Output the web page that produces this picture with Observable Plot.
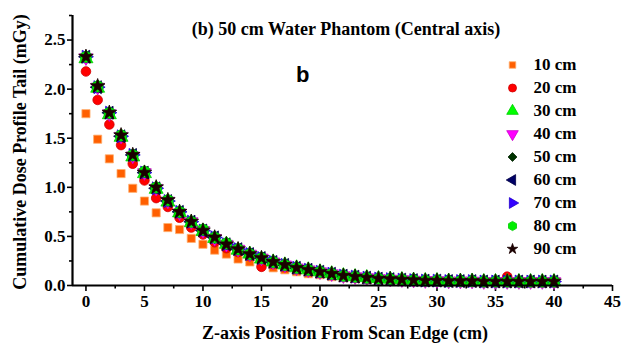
<!DOCTYPE html>
<html>
<head>
<meta charset="utf-8">
<script src="https://cdn.jsdelivr.net/npm/d3@7"></script>
<script src="https://cdn.jsdelivr.net/npm/@observablehq/plot@0.6"></script>
<style>
  html, body { margin: 0; padding: 0; background: #fff; }
  #wrap { position: relative; width: 634px; height: 345px; overflow: hidden;
          font-family: "Liberation Serif", "Times New Roman", serif; font-weight: bold; color: #000; }
  #wrap svg { position: absolute; }
  .lbl { position: absolute; white-space: nowrap; line-height: 1; }
</style>
</head>
<body>
<div id="wrap"></div>
<script>
// ---------- data ----------
const titleText = "(b) 50 cm Water Phantom (Central axis)";
const panelLetter = "b";
const xTitle = "Z-axis Position From Scan Edge (cm)";
const yTitle = "Cumulative Dose Profile Tail (mGy)";

const xTicks = [0, 5, 10, 15, 20, 25, 30, 35, 40, 45];
const xMinorTicks = [2.5, 7.5, 12.5, 17.5, 22.5, 27.5, 32.5, 37.5, 42.5];
const yTicks = [0, 0.5, 1.0, 1.5, 2.0, 2.5];
const yMinorTicks = [0.25, 0.75, 1.25, 1.75, 2.25, 2.75];

const positions = [0,1,2,3,4,5,6,7,8,9,10,11,12,13,14,15,16,17,18,19,20,
                   21,22,23,24,25,26,27,28,29,30,31,32,33,34,35,36,37,38,39,40];

const seriesNames = ["10 cm", "20 cm", "30 cm", "40 cm", "50 cm", "60 cm", "70 cm", "80 cm", "90 cm"];

const dose10 = [1.75,1.49,1.29,1.14,0.99,0.86,0.74,0.59,0.57,0.48,0.42,0.36,0.32,0.27,0.24,0.21,0.18,0.16,0.14,0.12,0.11,0.09,0.08,0.07,0.06];
const dose20 = [2.18,1.89,1.64,1.43,1.24,1.07,0.89,0.80,0.69,0.59,0.52,0.44,0.38,0.34,0.30,0.19,0.22,0.19,0.17,0.15,0.13,0.11,0.10,0.08,0.07,
                0.065,0.06,0.055,0.05,0.045,0.04,0.04,0.035,0.035,0.035,0.035,0.09,0.03,0.03,0.03,0.03];
const dose30 = [2.31,2.01,1.74,1.51,1.31,1.14,0.98,0.85,0.74,0.64,0.55,0.48,0.42,0.36,0.32,0.27,0.24,0.21,0.18,0.16,0.14,0.12,0.10,0.09,0.08,
                0.07,0.065,0.06,0.055,0.05,0.05,0.045,0.045,0.045,0.04,0.04,0.04,0.04,0.04,0.04,0.04];
const dose40 = [2.32,2.02,1.75,1.52,1.32,1.15,0.99,0.86,0.74,0.65,0.56,0.48,0.42,0.37,0.32,0.28,0.24,0.21,0.18,0.16,0.14,0.12,0.10,0.09,0.08,
                0.07,0.065,0.06,0.055,0.05,0.05,0.045,0.045,0.045,0.04,0.04,0.04,0.04,0.04,0.04,0.04];
const dose50 = [2.32,2.02,1.75,1.52,1.32,1.15,0.99,0.86,0.74,0.65,0.56,0.48,0.42,0.37,0.32,0.28,0.24,0.21,0.18,0.16,0.14,0.12,0.10,0.09,0.08,
                0.07,0.065,0.06,0.055,0.05,0.05,0.045,0.045,0.045,0.04,0.04,0.04,0.04,0.04,0.04,0.04];
const dose60 = [2.33,2.02,1.76,1.52,1.33,1.15,0.99,0.86,0.75,0.65,0.56,0.49,0.42,0.37,0.32,0.28,0.24,0.21,0.18,0.16,0.14,0.12,0.10,0.09,0.08,
                0.07,0.065,0.06,0.055,0.05,0.05,0.045,0.045,0.045,0.04,0.04,0.04,0.04,0.04,0.04,0.04];
const dose70 = [2.33,2.02,1.76,1.52,1.33,1.15,0.99,0.86,0.75,0.65,0.56,0.49,0.42,0.37,0.32,0.28,0.24,0.21,0.18,0.16,0.14,0.12,0.10,0.09,0.08,
                0.07,0.065,0.06,0.055,0.05,0.05,0.045,0.045,0.045,0.04,0.04,0.04,0.04,0.04,0.04,0.04];
const dose80 = [2.33,2.03,1.76,1.53,1.33,1.16,1.00,0.87,0.75,0.65,0.57,0.49,0.43,0.37,0.32,0.28,0.24,0.21,0.18,0.16,0.14,0.12,0.10,0.09,0.08,
                0.07,0.065,0.06,0.055,0.05,0.05,0.045,0.045,0.045,0.04,0.04,0.04,0.04,0.04,0.04,0.04];
const dose90 = [2.33,2.03,1.76,1.53,1.33,1.15,1.00,0.87,0.75,0.65,0.56,0.49,0.42,0.37,0.32,0.28,0.24,0.21,0.18,0.16,0.14,0.12,0.10,0.09,0.08,
                0.07,0.065,0.06,0.055,0.05,0.05,0.045,0.045,0.045,0.04,0.04,0.04,0.04,0.04,0.04,0.04];

const seriesValues = [dose10, dose20, dose30, dose40, dose50, dose60, dose70, dose80, dose90];

// ---------- styles ----------
const SQ3 = Math.sqrt(3);
function triangle(rot) {
  return {
    draw(ctx, size) {
      const y = -Math.sqrt(size / (SQ3 * 3));
      const pts = [[0, y * 2], [-SQ3 * y, -y], [SQ3 * y, -y]];
      const c = Math.cos(rot), s = Math.sin(rot);
      pts.forEach(([px, py], i) => {
        const X = px * c - py * s, Y = px * s + py * c;
        if (i) ctx.lineTo(X, Y); else ctx.moveTo(X, Y);
      });
      ctx.closePath();
    }
  };
}
const styles = [
  {symbol: "square",        fill: "#ff5f00", stroke: "#ffb070", r: 4.6, lr: 3.7},
  {symbol: "circle",        fill: "#ff0000", stroke: "#d00000", r: 4.8, lr: 4.0},
  {symbol: triangle(0),     fill: "#00ff00", stroke: "#00cc00", r: 5.2, lr: 4.3},
  {symbol: triangle(Math.PI), fill: "#ff00ff", stroke: "#cc00cc", r: 5.0, lr: 4.3},
  {symbol: "diamond2",      fill: "#003300", stroke: "#002200", r: 4.8, lr: 4.0},
  {symbol: triangle(-Math.PI / 2), fill: "#000066", stroke: "#000044", r: 4.8, lr: 4.0},
  {symbol: triangle(Math.PI / 2),  fill: "#3300ff", stroke: "#2200cc", r: 4.8, lr: 4.0},
  {symbol: "hexagon",       fill: "#00ee00", stroke: "#00cc00", r: 5.2, lr: 4.0},
  {symbol: "star",          fill: "#1a0000", stroke: "#1a0000", r: 4.6, lr: 3.3}
];

// ---------- main chart ----------
const pointMarks = seriesValues.map((vals, i) => {
  const rows = vals.map((v, j) => ({x: positions[j], y: v}));
  const st = styles[i];
  return Plot.dot(rows, {x: "x", y: "y", symbol: st.symbol, fill: st.fill,
                         stroke: st.stroke, strokeWidth: 0.8, r: st.r});
});

const chart = Plot.plot({
  width: 634, height: 345,
  marginLeft: 72, marginRight: 22, marginTop: 15, marginBottom: 60,
  style: {fontFamily: '"Liberation Serif", "Times New Roman", serif', fontWeight: "bold",
          fontSize: "17px", color: "#000", background: "transparent", overflow: "visible"},
  x: {domain: [-1.15, 45]},
  y: {domain: [0, 2.75]},
  marks: [
    Plot.axisX({ticks: xTicks, tickSize: 6, tickPadding: 3, strokeWidth: 1.6, label: null, fontSize: 17}),
    Plot.axisX({ticks: xMinorTicks, tickSize: 3.5, strokeWidth: 1.6, tickFormat: () => "", label: null}),
    Plot.axisY({ticks: yTicks, tickSize: 5, tickPadding: 2, strokeWidth: 1.6, tickFormat: d3.format(".1f"), label: null, fontSize: 17}),
    Plot.axisY({ticks: yMinorTicks, tickSize: 3, strokeWidth: 1.6, tickFormat: () => "", label: null}),
    ...pointMarks,
    Plot.ruleY([0], {strokeWidth: 2.2}),
    Plot.ruleX([-1.15], {strokeWidth: 2.2})
  ]
});
chart.style.left = "0px";
chart.style.top = "0px";

const wrap = document.getElementById("wrap");
wrap.appendChild(chart);

// ---------- legend (separate small Plot) ----------
const legendMarks = [];
seriesNames.forEach((name, i) => {
  const st = styles[i];
  legendMarks.push(Plot.dot([name], {y: d => d, frameAnchor: "left", dx: 32,
    symbol: st.symbol, fill: st.fill, stroke: st.stroke, strokeWidth: 0.8, r: st.lr}));
});
legendMarks.push(Plot.text(seriesNames, {y: d => d, frameAnchor: "left", dx: 53,
  textAnchor: "start", fontSize: 17, fontWeight: "bold", fill: "#000"}));

const legend = Plot.plot({
  width: 140, height: 211,
  margin: 0,
  style: {fontFamily: '"Liberation Serif", "Times New Roman", serif', background: "transparent", overflow: "visible"},
  x: {axis: null},
  y: {type: "band", domain: seriesNames, padding: 0, axis: null},
  marks: legendMarks
});
legend.style.left = "480px";
legend.style.top = "50.6px";
wrap.appendChild(legend);

// ---------- text labels ----------
function addLabel(text, css) {
  const d = document.createElement("div");
  d.className = "lbl";
  d.textContent = text;
  Object.assign(d.style, css);
  wrap.appendChild(d);
  return d;
}
addLabel(titleText, {left: "0px", width: "692px", textAlign: "center", top: "20px", fontSize: "18px"});
addLabel(panelLetter, {left: "296px", top: "64px", fontSize: "22px",
  fontFamily: '"Liberation Sans", Arial, sans-serif'});
addLabel(xTitle, {left: "0px", width: "690px", textAlign: "center", top: "324px", fontSize: "18px"});
addLabel(yTitle, {left: "20px", top: "152px", fontSize: "18px",
  transform: "translate(-50%, -50%) rotate(-90deg)"});
</script>
</body>
</html>
